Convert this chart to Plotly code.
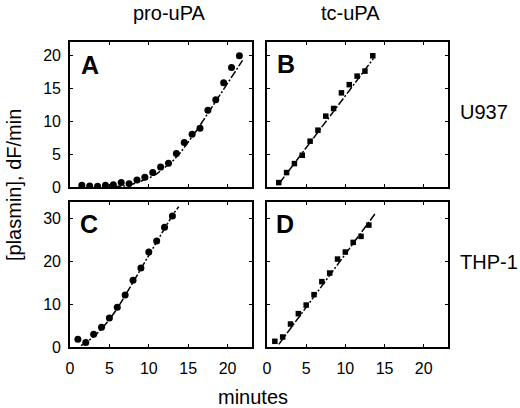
import plotly.graph_objects as go

# Panel A: pro-uPA, U937
a_t = [1.5, 2.5, 3.5, 4.5, 5.5, 6.5, 7.5, 8.5, 9.5, 10.5, 11.5, 12.5, 13.5, 14.5, 15.5, 16.5, 17.5, 18.5, 19.5, 20.5, 21.5]
a_y = [0.26, 0.16, 0.1, 0.26, 0.36, 0.67, 0.51, 1.07, 1.48, 2.2, 3.05, 3.62, 5.1, 6.78, 8.05, 8.96, 11.7, 13.3, 15.9, 18.2, 20.0]
a_fit_t = [5.5, 6, 7, 8, 9, 10, 11, 12, 13, 14, 15, 16, 17, 18, 19, 20, 21, 21.9]
a_fit_y = [0.0, 0.05, 0.2, 0.45, 0.85, 1.35, 2.0, 2.9, 3.9, 5.2, 6.8, 8.5, 10.3, 12.1, 14.0, 15.8, 17.6, 19.3]

# Panel B: tc-uPA, U937
b_t = [1.5, 2.5, 3.5, 4.5, 5.5, 6.5, 7.5, 8.5, 9.5, 10.5, 11.5, 12.5, 13.5]
b_y = [0.67, 2.2, 3.57, 4.84, 6.98, 8.66, 10.8, 11.97, 14.35, 15.6, 16.9, 17.66, 20.0]
b_fit_t = [1.6, 13.6]
b_fit_y = [0.6, 19.6]

# Panel C: pro-uPA, THP-1
c_t = [1, 2, 3, 4, 5, 6, 7, 8, 9, 10, 11, 12, 13]
c_y = [1.8, 1.03, 2.97, 4.6, 6.78, 9.28, 12.15, 15.58, 18.46, 22.2, 24.77, 27.97, 30.6]
c_fit_t = [1.4, 2, 3, 4, 5, 6, 7, 8, 9, 10, 11, 12, 13, 13.8]
c_fit_y = [0.3, 1.0, 2.4, 4.2, 6.4, 9.0, 12.0, 15.2, 18.3, 21.5, 24.6, 27.7, 30.8, 32.8]

# Panel D: tc-uPA, THP-1
d_t = [1, 2, 3, 4, 5, 6, 7, 8, 9, 10, 11, 12, 13]
d_y = [1.33, 2.34, 5.37, 7.8, 9.81, 12.24, 15.28, 17.29, 20.56, 22.2, 24.46, 25.86, 28.5]
d_fit_t = [1.5, 13.85]
d_fit_y = [0.6, 31.3]

x_ticks = [0, 5, 10, 15, 20]
y_ticks_top = [0, 5, 10, 15, 20]
y_ticks_bottom = [0, 10, 20, 30]

W, H = 520, 408
FONT = "Liberation Sans, Arial, sans-serif"

fig = go.Figure()

panels = [
    (a_t, a_y, a_fit_t, a_fit_y, "circle", 7, "x", "y"),
    (b_t, b_y, b_fit_t, b_fit_y, "square", 5.5, "x2", "y2"),
    (c_t, c_y, c_fit_t, c_fit_y, "circle", 7, "x3", "y3"),
    (d_t, d_y, d_fit_t, d_fit_y, "square", 5.5, "x4", "y4"),
]
for t, y, ft, fy, sym, sz, xa, ya in panels:
    fig.add_trace(go.Scatter(x=ft, y=fy, mode="lines", xaxis=xa, yaxis=ya,
                             line=dict(color="black", width=1.5, dash="8px,2px,2px,2px"),
                             showlegend=False, hoverinfo="skip"))
    fig.add_trace(go.Scatter(x=t, y=y, mode="markers", xaxis=xa, yaxis=ya,
                             marker=dict(symbol=sym, size=sz, color="black"),
                             showlegend=False))

def px_x(p):
    return p / W

def px_y(p):
    return 1 - p / H

xdom_l = [px_x(70), px_x(252)]
xdom_r = [px_x(267), px_x(448)]
ydom_t = [px_y(187), px_y(42)]
ydom_b = [px_y(347), px_y(202)]

axcommon = dict(showline=True, linecolor="black", linewidth=1.7, mirror="ticks",
                ticks="inside", ticklen=3, tickwidth=1.2, tickcolor="black",
                showgrid=False, zeroline=False, automargin=False,
                tickfont=dict(family=FONT, size=16, color="black"))

def xax(dom, anchor, labels):
    d = dict(axcommon)
    d.update(domain=dom, anchor=anchor, range=[0, 23.1], tickvals=x_ticks,
             showticklabels=labels, ticklabelstandoff=6)
    return d

def yax(dom, anchor, rng, vals, labels):
    d = dict(axcommon)
    d.update(domain=dom, anchor=anchor, range=rng, tickvals=vals,
             showticklabels=labels, ticklabelstandoff=4)
    return d

fig.update_layout(
    template="none",
    width=W, height=H,
    margin=dict(l=0, r=0, t=0, b=0, autoexpand=False),
    paper_bgcolor="white", plot_bgcolor="white",
    xaxis=xax(xdom_l, "y", False),
    yaxis=yax(ydom_t, "x", [0, 22.1], y_ticks_top, True),
    xaxis2=xax(xdom_r, "y2", False),
    yaxis2=yax(ydom_t, "x2", [0, 22.1], y_ticks_top, False),
    xaxis3=xax(xdom_l, "y3", True),
    yaxis3=yax(ydom_b, "x3", [0, 33.9], y_ticks_bottom, True),
    xaxis4=xax(xdom_r, "y4", True),
    yaxis4=yax(ydom_b, "x4", [0, 33.9], y_ticks_bottom, False),
)

def ann(text, x, y, size, bold=False, angle=0, xanchor="center"):
    fig.add_annotation(text=("<b>%s</b>" % text) if bold else text,
                       x=px_x(x), y=px_y(y), xref="paper", yref="paper",
                       xanchor=xanchor, yanchor="middle", showarrow=False,
                       textangle=angle, borderpad=0,
                       font=dict(family=FONT, size=size, color="black"))

ann("pro-uPA", 169, 13, 20)
ann("tc-uPA", 350, 13, 20)
ann("U937", 459, 112, 20, xanchor="left")
ann("THP-1", 459, 262, 20, xanchor="left")
ann("minutes", 253, 397, 20)
ann("[plasmin], dF/min", 14, 185, 20, angle=-90)
ann("A", 90, 65, 25, bold=True)
ann("B", 286, 64, 25, bold=True)
ann("C", 89, 224, 25, bold=True)
ann("D", 285, 224, 25, bold=True)

fig.write_html("out.html", config={"displayModeBar": False},
               post_script="document.body.style.margin='0';document.body.style.overflow='hidden';")
